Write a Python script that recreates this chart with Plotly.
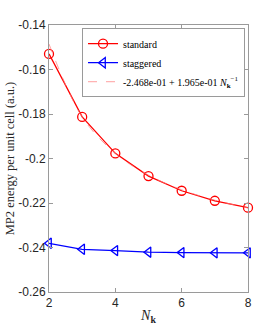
import plotly.graph_objects as go

n_k = [2, 3, 4, 5, 6, 7, 8]
standard = [-0.1530, -0.1813, -0.1977, -0.2079, -0.2145, -0.2190, -0.2221]
staggered = [-0.2381, -0.2408, -0.2414, -0.2421, -0.2423, -0.2424, -0.2424]
fit_vals = [-0.14855, -0.1813, -0.19768, -0.2075, -0.21405, -0.21873, -0.22224]
y_ticks = [-0.26, -0.24, -0.22, -0.2, -0.18, -0.16, -0.14]
y_tick_text = ["-0.26", "-0.24", "-0.22", "-0.2", "-0.18", "-0.16", "-0.14"]
x_ticks = [2, 4, 6, 8]

serif = "Liberation Serif"
sans = "Liberation Sans"

fig = go.Figure()
fig.add_trace(go.Scatter(
    x=n_k, y=standard, mode="lines+markers", name="standard", cliponaxis=False,
    line=dict(color="#ff0000", width=1.3),
    marker=dict(symbol="circle-open", size=9, color="#ff0000", line=dict(width=1.3)),
))
fig.add_trace(go.Scatter(
    x=n_k, y=staggered, mode="lines+markers", name="staggered", cliponaxis=False,
    line=dict(color="#0000ff", width=1.3),
    marker=dict(symbol="triangle-left-open", size=9, color="#0000ff", line=dict(width=1.3)),
))
fig.add_trace(go.Scatter(
    x=n_k, y=fit_vals, mode="lines", line_shape="spline", cliponaxis=False,
    name="-2.468e-01 + 1.965e-01 <i>N</i><sub><b>k</b></sub><sup>−1</sup>",
    line=dict(color="rgba(255,120,120,0.7)", width=1, dash="dash"),
))

axis_common = dict(
    showline=True, linecolor="#9a9a9a", linewidth=1, mirror="ticks",
    ticks="inside", ticklen=4, tickcolor="#9a9a9a",
    showgrid=False, zeroline=False, automargin=False,
    tickfont=dict(family=sans, size=12, color="#262626"),
)

fig.update_layout(
    width=274, height=329,
    paper_bgcolor="white", plot_bgcolor="white",
    margin=dict(l=49, r=26, t=25, b=37),
    xaxis=dict(range=[2, 8], tickvals=x_ticks,
               title=dict(text="<i>N</i><sub><b>k</b></sub>", font=dict(family=serif, size=14, color="#262626"), standoff=0),
               **axis_common),
    yaxis=dict(range=[-0.26, -0.14], tickvals=y_ticks, ticktext=y_tick_text,
               title=dict(text="MP2 energy per unit cell (a.u.)", font=dict(family=serif, size=12.5, color="#262626"), standoff=0),
               **axis_common),
    legend=dict(
        x=0.985, y=0.988, xanchor="right", yanchor="top",
        bgcolor="white", bordercolor="#9a9a9a", borderwidth=1,
        font=dict(family=serif, size=10, color="#000000"),
        itemwidth=30, tracegroupgap=0,
    ),
    showlegend=True,
)

fig.write_html("out.html", config={"displayModeBar": False},
               post_script="document.body.style.margin='0';document.body.style.padding='0';")
